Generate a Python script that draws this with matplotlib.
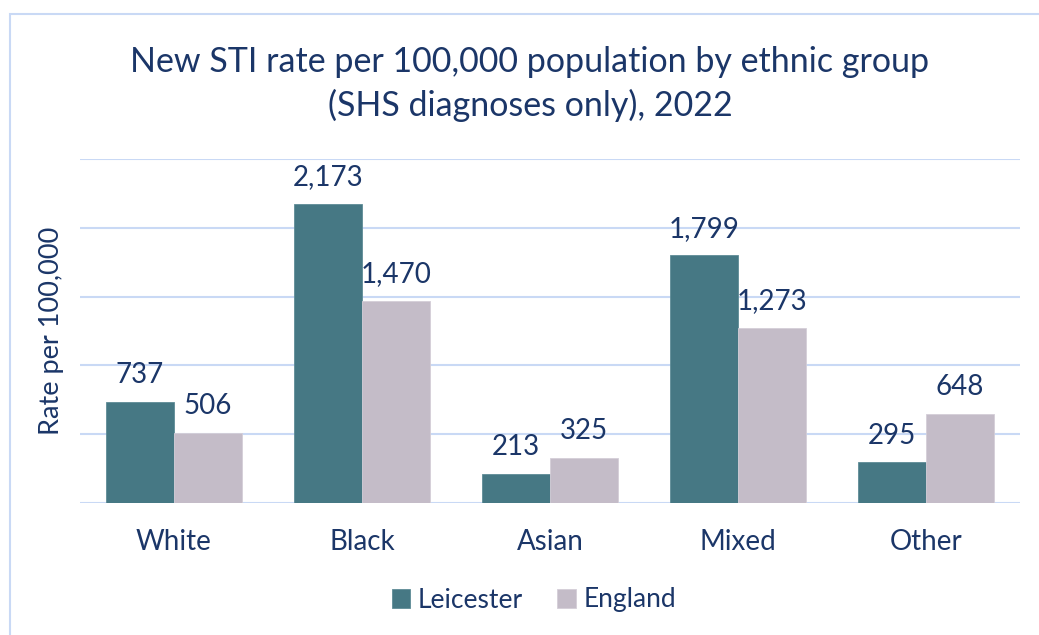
import numpy as np
import matplotlib.pyplot as plt
from matplotlib.patches import Rectangle

# STI rates per 100,000 by ethnic group, 2022
groups = ["White", "Black", "Asian", "Mixed", "Other"]
leicester = [737, 2173, 213, 1799, 295]
england = [506, 1470, 325, 1273, 648]

TEXT = "#1B3668"
GRID = "#C9D9F5"
C_LEI = "#467884"
C_ENG = "#C4BCC8"

plt.rcParams["font.family"] = ["Lato", "DejaVu Sans"]

fig = plt.figure(figsize=(10.39, 6.35), dpi=100)
ax = fig.add_axes([80 / 1039, 1 - 503 / 635, 940 / 1039, 344 / 635])

x = np.arange(len(groups))
w = 0.362
b1 = ax.bar(x - w / 2, leicester, w, color=C_LEI, edgecolor="#5E8C96", linewidth=0.6,
            label="Leicester", zorder=3)
b2 = ax.bar(x + w / 2, england, w, color=C_ENG, edgecolor="#D4CED8", linewidth=0.6,
            label="England", zorder=3)

for bars in (b1, b2):
    for bar in bars:
        v = bar.get_height()
        ax.annotate(f"{v:,.0f}", (bar.get_x() + bar.get_width() / 2, v),
                    xytext=(0, 10), textcoords="offset points",
                    ha="center", va="bottom", fontsize=20, color=TEXT)

ax.set_xlim(-0.5, len(groups) - 0.5)
ax.set_ylim(0, 2500)
ax.set_yticks(np.arange(0, 2501, 500))
ax.set_yticklabels([])
ax.yaxis.grid(True, color=GRID, linewidth=1.5, zorder=0)
ax.tick_params(axis="both", length=0)
ax.set_xticks(x)
ax.set_xticklabels(groups, fontsize=20, color=TEXT)
ax.tick_params(axis="x", pad=19)
for s in ax.spines.values():
    s.set_visible(False)

ax.set_ylabel("Rate per 100,000", fontsize=19.5, color=TEXT, labelpad=8)

fig.text(530 / 1039, 1 - 84 / 635, "New STI rate per 100,000 population by ethnic group\n"
         "(SHS diagnoses only), 2022", ha="center", va="center",
         fontsize=24.5, color=TEXT, linespacing=1.38)

fig.legend(handles=[b1, b2], loc="center", bbox_to_anchor=(534 / 1039, 1 - 600 / 635),
           ncol=2, frameon=False, fontsize=19, labelcolor=TEXT,
           handlelength=0.7, handleheight=0.7, handletextpad=0.3, columnspacing=1.3)

# chart area border
fig.patches.append(Rectangle((10 / 1039, -0.1), 1.2, 1 - 14 / 635 + 0.1,
                             transform=fig.transFigure, fill=False,
                             edgecolor=GRID, linewidth=1.5))

fig.savefig("out.png", dpi=100)
